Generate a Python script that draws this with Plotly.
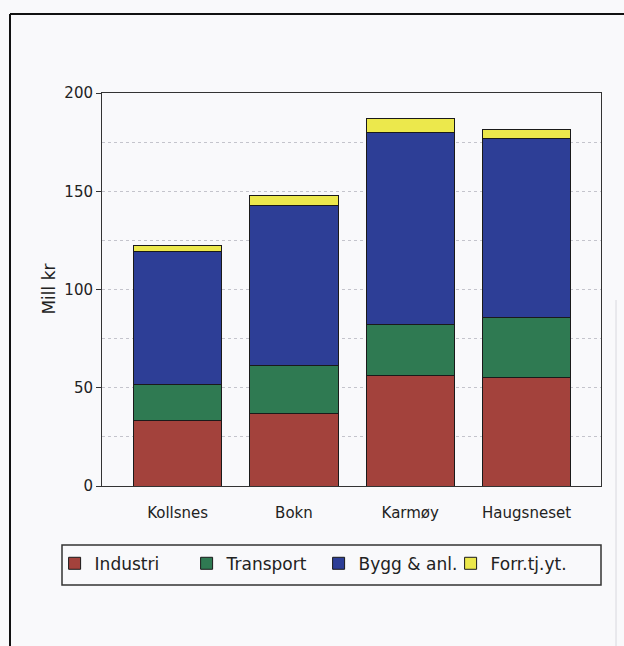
import plotly.graph_objects as go

# Investment by site and sector (million NOK)
sites = ["Kollsnes", "Bokn", "Karmøy", "Haugsneset"]
industri = [33.5, 37.0, 56.0, 55.0]
transport = [18.0, 24.5, 26.0, 31.0]
bygg = [68.0, 81.5, 98.0, 91.0]
forr = [3.0, 5.0, 7.0, 4.5]

series_names = ["Industri", "Transport", "Bygg & anl.", "Forr.tj.yt."]
series_values = [industri, transport, bygg, forr]
series_colors = ["#a3423c", "#2f7a52", "#2d3e96", "#ece84c"]

y_ticks = [0, 50, 100, 150, 200]

FONT = "DejaVu Sans"
INK = "#222222"

fig = go.Figure()
for name, vals, col in zip(series_names, series_values, series_colors):
    fig.add_trace(go.Bar(
        x=sites, y=vals, name=name,
        marker=dict(color=col, line=dict(color="#1a1a1a", width=1)),
    ))

fig.update_layout(
    width=624, height=646,
    barmode="stack",
    bargap=0.24,
    paper_bgcolor="#f9f9fb",
    plot_bgcolor="#f9f9fb",
    margin=dict(l=102, r=23, t=93, b=160),
    font=dict(family=FONT, color=INK, size=15),
    showlegend=True,
    legend=dict(
        orientation="h",
        x=-0.095, xanchor="left",
        y=-0.152, yanchor="top",
        bgcolor="rgba(0,0,0,0)",
        borderwidth=0,
        font=dict(family=FONT, size=17, color=INK),
        entrywidth=87,
        traceorder="normal",
    ),
    xaxis=dict(
        range=[-0.65, 3.64],
        showline=True, linecolor="#333333", linewidth=1, mirror=True,
        ticks="", showgrid=False,
        tickfont=dict(size=15, color=INK),
        ticklabelstandoff=13,
    ),
    yaxis=dict(
        range=[0, 200],
        tickvals=y_ticks,
        showline=True, linecolor="#333333", linewidth=1, mirror=True,
        ticks="outside", ticklen=5, tickcolor="#333333",
        showgrid=True, gridcolor="#c4c4cc", griddash="dot", gridwidth=1,
        minor=dict(dtick=25, showgrid=True, gridcolor="#c4c4cc",
                   griddash="dot", gridwidth=1),
        zeroline=False,
        tickfont=dict(size=15, color=INK),
    ),
    annotations=[
        dict(text="Mill kr", xref="paper", yref="paper",
             x=-0.108, y=0.50, xanchor="center", yanchor="middle",
             textangle=-90, showarrow=False,
             font=dict(family=FONT, size=17, color=INK)),
    ],
    shapes=[
        # legend frame
        dict(type="rect", xref="paper", yref="paper",
             x0=(62 - 102) / 499, x1=(601 - 102) / 499,
             y0=(486 - 585) / 393, y1=(486 - 545) / 393,
             line=dict(color="#333333", width=1.5)),
        # page frame: top and left rules
        dict(type="line", xref="paper", yref="paper",
             x0=(10 - 102) / 499, x1=(624 - 102) / 499,
             y0=(486 - 14) / 393, y1=(486 - 14) / 393,
             line=dict(color="#111111", width=2)),
        dict(type="line", xref="paper", yref="paper",
             x0=(10 - 102) / 499, x1=(10 - 102) / 499,
             y0=(486 - 14) / 393, y1=(486 - 646) / 393,
             line=dict(color="#111111", width=2)),
        dict(type="line", xref="paper", yref="paper",
             x0=(616 - 102) / 499, x1=(616 - 102) / 499,
             y0=(486 - 300) / 393, y1=(486 - 646) / 393,
             line=dict(color="#d8d8de", width=1)),
    ],
)

fig.write_html("out.html")
